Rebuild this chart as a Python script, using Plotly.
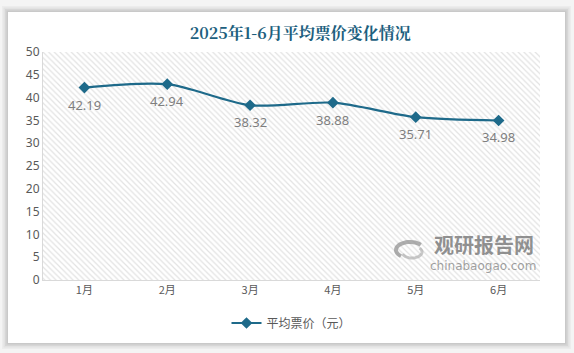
import math
import plotly.graph_objects as go

months = ["1月", "2月", "3月", "4月", "5月", "6月"]
prices = [42.19, 42.94, 38.32, 38.88, 35.71, 34.98]
y_ticks = [0, 5, 10, 15, 20, 25, 30, 35, 40, 45, 50]
series_name = "平均票价（元）"
title_text = "2025年1-6月平均票价变化情况"

xs = list(range(len(months)))
line_color = "#1e6a8a"
font_cn = "Noto Sans CJK SC"

L, R, T, B = 43, 540, 52, 280
PW, PH = R - L, B - T


def px(X):
    return (X - L) / PW


def py(Y):
    return (B - Y) / PH


fig = go.Figure()

# hatched plot background
fig.add_trace(go.Bar(
    x=xs, y=[50] * len(xs), width=1, showlegend=False, hoverinfo="skip",
    marker=dict(color="rgba(255,255,255,0)", line=dict(width=0),
                pattern=dict(shape="\\", fgcolor="#c6c6c6", bgcolor="white",
                             size=4, solidity=0.3)),
))

fig.add_trace(go.Scatter(
    x=xs, y=prices, mode="lines+markers", name=series_name,
    line=dict(color=line_color, width=2.2, shape="spline", smoothing=0.8),
    marker=dict(symbol="diamond", size=9, color=line_color),
))

shapes = []
# card shadow
for i, op in enumerate([0.03, 0.04, 0.05, 0.06]):
    d = 6 - i * 1.5
    shapes.append(dict(type="rect", xref="paper", yref="paper", layer="below",
                       x0=px(8 - d), x1=px(565 + d), y0=py(343 + d), y1=py(12 - d),
                       fillcolor=f"rgba(0,0,0,{op})", line=dict(width=0)))
shapes.append(dict(type="rect", xref="paper", yref="paper", layer="below",
                   x0=px(8), x1=px(565), y0=py(343), y1=py(12),
                   fillcolor="white", line=dict(width=0)))


def arc_path(cx, cy, rx, ry, a0, a1, n=20):
    pts = []
    for k in range(n + 1):
        a = math.radians(a0 + (a1 - a0) * k / n)
        X = cx + rx * math.cos(a)
        Y = cy - ry * math.sin(a)
        pts.append(f"{px(X):.4f},{py(Y):.4f}")
    return "M" + " L".join(pts)


# watermark logo (swirl)
shapes.append(dict(type="path", xref="paper", yref="paper", layer="above",
                   path=arc_path(410, 250, 14, 8, 40, 230),
                   line=dict(color="rgba(140,140,140,0.7)", width=4)))
shapes.append(dict(type="path", xref="paper", yref="paper", layer="above",
                   path=arc_path(412, 252, 10, 6, 200, 400),
                   line=dict(color="rgba(170,170,170,0.65)", width=3)))

annotations = [
    dict(x=x, y=v, text=f"{v:.2f}", showarrow=False, yshift=-17,
         font=dict(color="#7f7f7f", size=13, family="Noto Sans"))
    for x, v in zip(xs, prices)
]
annotations += [
    dict(xref="paper", yref="paper", x=px(484), y=py(244), xanchor="center", yanchor="middle",
         text="<b>观研报告网</b>", showarrow=False,
         font=dict(family=font_cn, size=20, color="rgba(110,110,110,0.75)")),
    dict(xref="paper", yref="paper", x=px(483), y=py(266), xanchor="center", yanchor="middle",
         text="chinabaogao.com", showarrow=False,
         font=dict(family="DejaVu Sans", size=12, color="rgba(120,120,120,0.7)")),
]

fig.update_layout(
    width=574, height=353,
    margin=dict(l=L, r=574 - R, t=T, b=353 - B, autoexpand=False),
    paper_bgcolor="#f4f4f4", plot_bgcolor="white",
    shapes=shapes,
    annotations=annotations,
    title=dict(text=f"<b>{title_text}</b>", x=0.523, xanchor="center", y=0.905, yanchor="middle",
               font=dict(family="Noto Serif CJK SC, " + font_cn, size=16, color="#1d5f7e")),
    showlegend=True,
    legend=dict(orientation="h", x=0.5, xanchor="center", yref="container",
                y=1 - 323 / 353, yanchor="middle",
                font=dict(family=font_cn, size=12, color="#595959"), bgcolor="rgba(0,0,0,0)"),
    xaxis=dict(range=[-0.5, 5.5], tickvals=xs, ticktext=months, showgrid=False,
               showline=True, linecolor="#d9d9d9", linewidth=1, ticks="", zeroline=False,
               tickfont=dict(family=font_cn, size=11, color="#595959"),
               minor=dict(tickvals=[0.5, 1.5, 2.5, 3.5, 4.5], showgrid=True,
                          gridcolor="#e0e0e0", gridwidth=1)),
    yaxis=dict(range=[0, 50], tickvals=y_ticks, showgrid=False, zeroline=False,
               showline=True, linecolor="#d9d9d9", linewidth=1, ticks="",
               tickfont=dict(family="Noto Sans", size=12, color="#595959")),
    bargap=0,
)

fig.write_html("out.html")
